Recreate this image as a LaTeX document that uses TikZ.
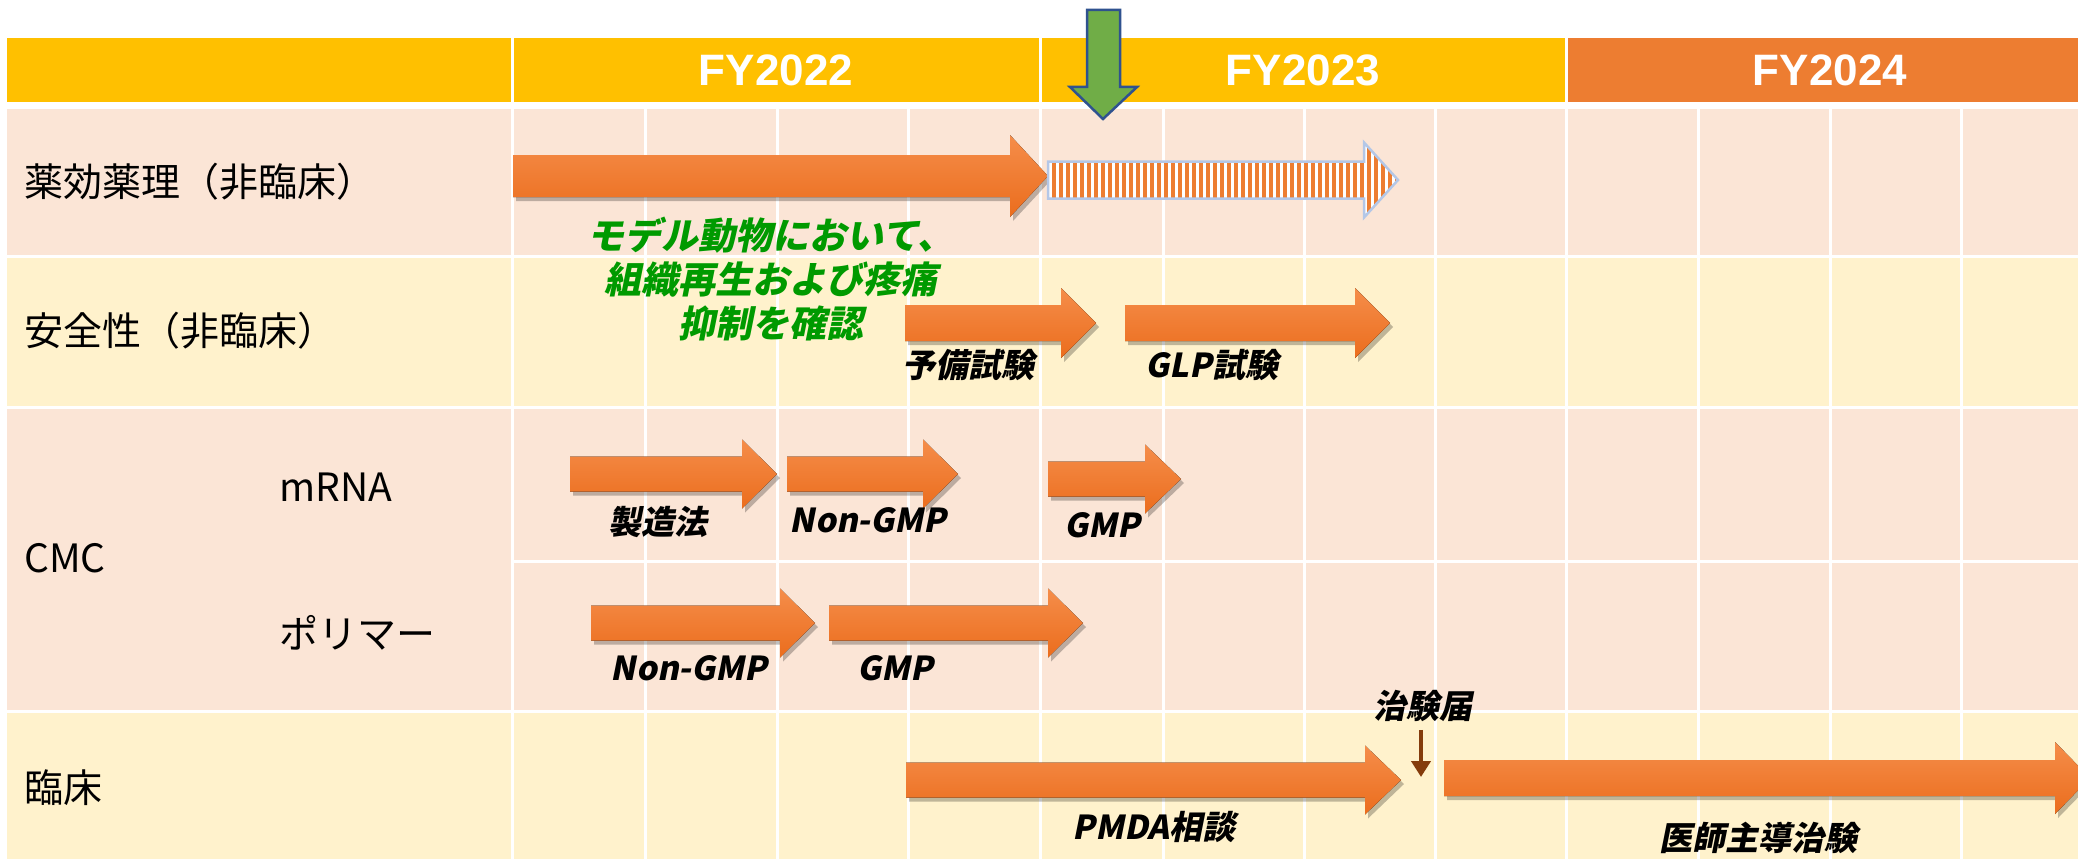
\documentclass[tikz,border=0pt]{standalone}
\usepackage{fontspec}
\setmainfont{Noto Sans CJK JP}
\newfontfamily\jpbi{Noto Sans CJK JP}[FakeSlant=0.2]
\newfontfamily\hdrfont{Liberation Sans}
\usetikzlibrary{shadows,arrows.meta}
\definecolor{hdryellow}{HTML}{FFC000}
\definecolor{hdrorange}{HTML}{ED7D31}
\definecolor{peach}{HTML}{FBE5D6}
\definecolor{cream}{HTML}{FFF2CC}
\definecolor{arrtop}{HTML}{F58D4A}
\definecolor{arrbot}{HTML}{EB6D1D}
\definecolor{stripeorange}{HTML}{ED7D31}
\definecolor{stripeedge}{HTML}{B4C7E7}
\definecolor{ggreen}{HTML}{70AD47}
\definecolor{gedge}{HTML}{2F528F}
\definecolor{txtgreen}{HTML}{009A00}
\definecolor{todokebrown}{HTML}{843C0C}
\newcommand{\blockarr}[6]{%
  \fill[arrowstyle] (#1,#4-#5) -- (#2,#4-#5) -- (#2,#4-#6) -- (#3,#4) -- (#2,#4+#6) -- (#2,#4+#5) -- (#1,#4+#5) -- cycle;}
\tikzset{
  arrowstyle/.style={top color=arrtop, bottom color=arrbot,
    drop shadow={shadow xshift=3pt, shadow yshift=-4pt, opacity=0.25, fill=black}},
  rowlabel/.style={anchor=west, inner sep=0pt, font=\fontsize{39}{46}\selectfont},
  yearlabel/.style={inner sep=0pt, text=white, font=\hdrfont\bfseries\fontsize{44}{50}\selectfont},
  barlabel/.style={inner sep=0pt, font=\jpbi\bfseries\fontsize{33}{38}\selectfont},
  gridline/.style={white, line width=3pt},
}
\begin{document}
\begin{tikzpicture}[x=1pt,y=-1pt]
\useasboundingbox (0,0) rectangle (2078,859);
\fill[white] (0,0) rectangle (2078,859);
% header
\fill[hdryellow] (7,38) rectangle (1566,102);
\fill[hdrorange] (1566,38) rectangle (2078,102);
\foreach \x in {512,1040,1566} \draw[gridline] (\x,38) -- (\x,102);
\node[yearlabel] (fy22) at (776,70) {FY2022};
\node[yearlabel] (fy23) at (1303,70) {FY2023};
\node[yearlabel] (fy24) at (1830,70) {FY2024};
% rows
\fill[peach] (7,109) rectangle (2078,255);
\fill[cream] (7,258) rectangle (2078,406);
\fill[peach] (7,409) rectangle (2078,710);
\fill[cream] (7,713) rectangle (2078,859);
\foreach \x in {512,645,777,908,1040,1163,1304,1435,1566,1698,1830,1961}
  \draw[gridline] (\x,109) -- (\x,859);
\draw[gridline] (512,561) -- (2078,561);
% row labels
\node[rowlabel] (r1) at (24,182) {薬効薬理（非臨床）};
\node[rowlabel] (r2) at (24,331) {安全性（非臨床）};
\node[rowlabel] (r3) at (24,558) {CMC};
\node[rowlabel] (r3a) at (279,487) {mRNA};
\node[rowlabel] (r3b) at (279,633) {ポリマー};
\node[rowlabel] (r4) at (24,788) {臨床};
% arrows
\blockarr{513}{1010}{1048}{176}{21}{41}
% striped arrow
\begin{scope}
  \clip (1048,161.5) -- (1364,161.5) -- (1364,142.5) -- (1398,180) -- (1364,217.5) -- (1364,198.5) -- (1048,198.5) -- cycle;
  \fill[white] (1040,140) rectangle (1400,220);
  \foreach \x in {1054,1061,...,1398} \draw[stripeorange, line width=4pt] (\x,140) -- (\x,220);
\end{scope}
\draw[stripeedge, line width=2.5pt, line join=miter] (1048,161.5) -- (1364,161.5) -- (1364,142.5) -- (1398,180) -- (1364,217.5) -- (1364,198.5) -- (1048,198.5) -- cycle;
\blockarr{905}{1061}{1096}{323}{18}{35}
\blockarr{1125}{1355}{1390}{323}{18}{35}
\blockarr{570}{742}{777}{474}{17.5}{34.5}
\blockarr{787}{923}{958}{474}{17.5}{34.5}
\blockarr{1048}{1145}{1181}{479}{17.5}{34.5}
\blockarr{591}{780}{815}{623}{17.5}{34.5}
\blockarr{829}{1048}{1083}{623}{17.5}{34.5}
\blockarr{906}{1365}{1401}{780}{17.5}{34.5}
\blockarr{1444}{2055}{2090}{778}{18}{36}
% bar labels
\node[inner sep=0pt, text=txtgreen, align=center, font=\jpbi\bfseries\fontsize{37}{44}\selectfont] (note) at (771,279)
  {モデル動物において、\\組織再生および疼痛\\抑制を確認};
\node[barlabel] (yobi) at (968,365) {予備試験};
\node[barlabel] (glp) at (1212,365) {GLP試験};
\node[barlabel] (seizo) at (658,522) {製造法};
\node[barlabel] (ngmp1) at (868,520) {Non-GMP};
\node[barlabel] (gmp1) at (1102,525) {GMP};
\node[barlabel] (ngmp2) at (689,668) {Non-GMP};
\node[barlabel] (gmp2) at (895,668) {GMP};
\node[barlabel] (todoke) at (1423,706) {治験届};
\node[barlabel] (pmda) at (1154,827) {PMDA相談};
\node[barlabel] (ishi) at (1758,838) {医師主導治験};
\coordinate (todokeend) at (1421,777);
\draw[todokebrown, line width=4.5pt, -{Triangle[length=16pt,width=19pt]}] (todoke.south) ++(-2,8) -- (todokeend);
% green milestone arrow
\draw[fill=ggreen, draw=gedge, line width=2.5pt, line join=miter] (1087,10) -- (1120,10) -- (1120,87) -- (1137,87) -- (1103,119) -- (1070,87) -- (1087,87) -- cycle;
\end{tikzpicture}
\end{document}
